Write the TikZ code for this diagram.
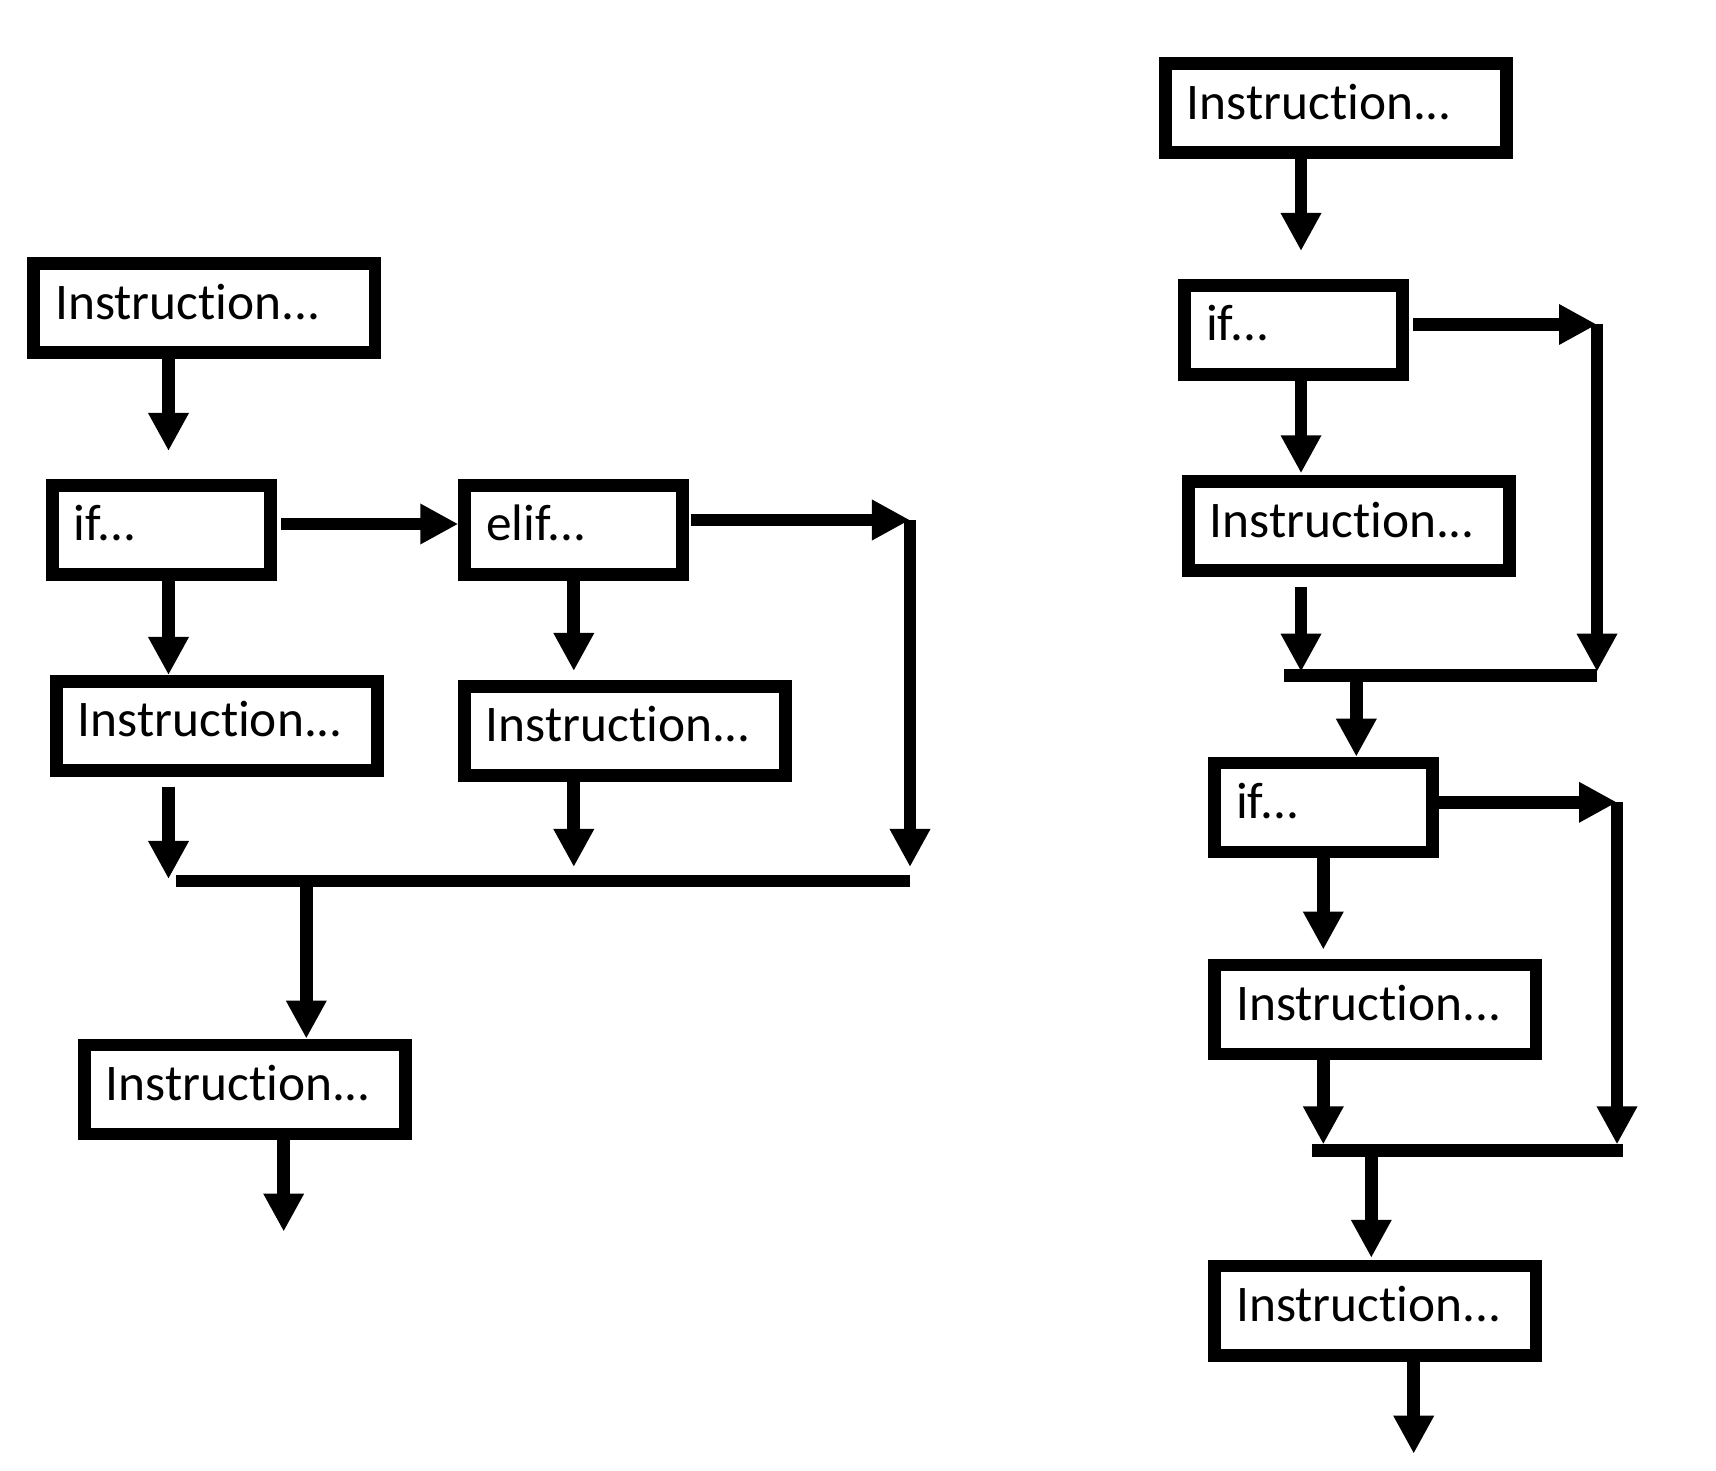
\documentclass[tikz,border=0pt]{standalone}
\usepackage{fontspec}
\setmainfont{Carlito}[Ligatures=NoCommon]
\usepackage{tikz}
\usetikzlibrary{arrows.meta}
\tikzstyle{base}=[x=0.01cm, y=-0.01cm, line width=3.6pt, inner sep=0pt]
\tikzstyle{blk}=[draw, line width=3.6pt, anchor=north west, minimum height=0.89cm, inner xsep=0.213cm, inner ysep=0pt, text height=0.35cm, text depth=0.13cm, align=left, font=\fontsize{14.6}{17}\selectfont]
\tikzstyle{wide}=[blk, minimum width=3.21cm, text width=2.78cm]
\tikzstyle{widest}=[blk, minimum width=3.41cm, text width=2.98cm]
\tikzstyle{narrow}=[blk, minimum width=2.18cm, text width=1.75cm]
\tikzstyle{flow}=[-{Triangle[length=0.38cm, width=0.38cm]}]

\begin{document}
\begin{tikzpicture}[base]
    \useasboundingbox (0,0) rectangle (1716,1470);
        \node [widest] (insA) at (27.3,257.3) {Instruction...};
        \node [narrow] (if1) at (46,479) {if...};
        \node [narrow] (elif) at (458.3,479) {elif...};
        \node [wide] (ins2) at (50,675) {Instruction...};
        \node [wide] (ins3) at (458,680) {Instruction...};
        \node [wide] (ins4) at (78,1038.6) {Instruction...};
        \coordinate (cL) at (168.5,0);
        \coordinate (cE) at (573.8,0);
        \coordinate (rowI) at (0,524);
        \coordinate (elseL) at (910,520);
        \coordinate (barLa) at (176,881);
        \coordinate (barLb) at (910,881);
        \coordinate (joinL) at (306.3,881);
        \coordinate (outL) at (283.7,1231.6);
        \draw [flow, shorten >=0.28cm] (insA.south -| cL) -- (if1.north -| cL);
        \draw [flow, shorten <=0.04cm] (if1.east |- rowI) -- (elif.west |- rowI);
        \draw [flow, shorten <=0.02cm] (elif.east |- elseL) -- (elseL);
        \draw [flow, shorten >=0.14cm] (elseL) -- (barLb);
        \draw [flow] (if1.south -| cL) -- (ins2.north -| cL);
        \draw [flow, shorten >=0.09cm] (elif.south -| cE) -- (ins3.north -| cE);
        \draw [flow, shorten <=0.1cm, shorten >=0.02cm] (ins2.south -| cL) -- (barLa -| cL);
        \draw [flow, shorten >=0.14cm] (ins3.south -| cE) -- (barLa -| cE);
        \draw (barLa) -- (barLb);
        \draw [flow] (joinL) -- (ins4.north -| joinL);
        \draw [flow] (ins4.south -| outL) -- (outL);
        \node [widest] (rA) at (1159,57.3) {Instruction...};
        \node [narrow] (rif1) at (1178.3,279) {if...};
        \node [wide] (r2) at (1182,475.3) {Instruction...};
        \node [narrow] (rif2) at (1208.3,756.7) {if...};
        \node [wide] (r3) at (1208.3,958.6) {Instruction...};
        \node [wide] (r4) at (1208.3,1259.8) {Instruction...};
        \coordinate (cR) at (1301,0);
        \coordinate (cS) at (1323.3,0);
        \coordinate (skip1) at (1597,324.5);
        \coordinate (barRa) at (1284.3,675.7);
        \coordinate (barRb) at (1596.7,675.7);
        \coordinate (join1) at (1356.3,675.7);
        \coordinate (skip2) at (1617,802.3);
        \coordinate (barSa) at (1311.7,1150.4);
        \coordinate (barSb) at (1623.3,1150.4);
        \coordinate (join2) at (1371.3,1150.4);
        \coordinate (outR) at (1413.7,1453.7);
        \draw [flow, shorten >=0.28cm] (rA.south -| cR) -- (rif1.north -| cR);
        \draw [flow, shorten <=0.04cm] (rif1.east |- skip1) -- (skip1);
        \draw [flow, shorten >=0.04cm] (skip1) -- (barRb -| skip1);
        \draw [flow, shorten >=0.02cm] (rif1.south -| cR) -- (r2.north -| cR);
        \draw [flow, shorten <=0.1cm, shorten >=0.04cm] (r2.south -| cR) -- (barRa -| cR);
        \draw (barRa) -- (barRb);
        \draw [flow] (join1) -- (rif2.north -| join1);
        \draw [flow] (rif2.east |- skip2) -- (skip2);
        \draw [flow, shorten >=0.06cm] (skip2) -- (barSb -| skip2);
        \draw [flow, shorten >=0.09cm] (rif2.south -| cS) -- (r3.north -| cS);
        \draw [flow, shorten >=0.06cm] (r3.south -| cS) -- (barSa -| cS);
        \draw (barSa) -- (barSb);
        \draw [flow, shorten >=0.02cm] (join2) -- (r4.north -| join2);
        \draw [flow] (r4.south -| outR) -- (outR);
    \end{tikzpicture}
\end{document}
